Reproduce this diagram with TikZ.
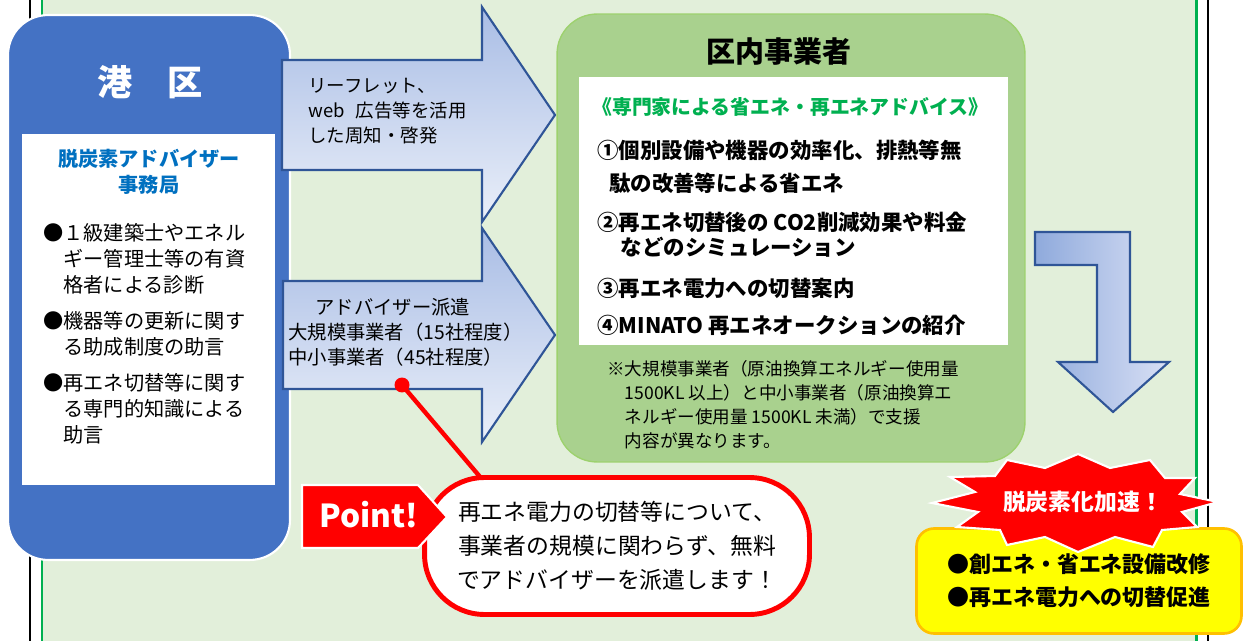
\documentclass[tikz,border=0pt]{standalone}
\usepackage{fontspec}
\setmainfont{Noto Sans CJK JP}
\usetikzlibrary{positioning}

\definecolor{bggreen}{HTML}{E2EFDA}
\definecolor{framegreen}{HTML}{00B050}
\definecolor{wardblue}{HTML}{4472C4}
\definecolor{officeblue}{HTML}{0070C0}
\definecolor{arrowedge}{HTML}{2F5597}
\definecolor{arrowtop}{HTML}{A9BDE5}
\definecolor{arrowbottom}{HTML}{EAEFF9}
\definecolor{arrowleft}{HTML}{8FAADC}
\definecolor{arrowright}{HTML}{D9E0F5}
\definecolor{bizgreen}{HTML}{A9D18E}
\definecolor{bizedge}{HTML}{9DD16E}
\definecolor{advicegreen}{HTML}{00B050}
\definecolor{alertred}{HTML}{FF0000}
\definecolor{boxyellow}{HTML}{FFFF00}
\definecolor{boxorange}{HTML}{FFC000}

\newcommand{\fsz}[2]{\fontsize{#1}{#2}\selectfont}

\begin{document}
\begin{tikzpicture}[x=0.02cm, y=-0.02cm,
        panel/.style={rectangle, rounded corners=0.8cm, inner sep=0pt},
        sheet/.style={rectangle, fill=white, inner sep=0pt},
        txt/.style={inner sep=0pt, anchor=north west, align=left},
        bigarrow/.style={draw=arrowedge, line width=1.2pt, line join=miter},
        item/.style={txt, font=\bfseries\fsz{12.2}{14.2}},
        callout/.style={rectangle, rounded corners=1.2cm, fill=white, draw=alertred, line width=2.8pt, minimum width=7.7cm, minimum height=2.74cm, align=center, font=\fsz{13}{19.3}},
        burst/.style={fill=alertred, draw=white, line width=1.2pt}
    ]
        \useasboundingbox (0,0) rectangle (1253,641);
        % page frame
        \fill[bggreen] (43,0) rectangle (1195,641);
        \draw[framegreen, line width=1.7pt] (42,0) -- (42,641) (1196,0) -- (1196,641);
        \draw[line width=1.1pt] (30,0) -- (30,641) (1208,0) -- (1208,641);

        % Minato ward
        \node[panel, fill=wardblue, draw=white, line width=1.2pt, minimum width=5.64cm, minimum height=10.9cm] (ward) at (149,287.5) {};
        \node[text=white, font=\bfseries\fsz{20}{24}] (wardname) at (150,82) {港\hspace{1em}区};
        \node[sheet, minimum width=5.06cm, minimum height=7.02cm] (office) at (148.5,309.5) {};
        \node[text=officeblue, font=\bfseries\fsz{11.5}{14.7}, align=center, inner sep=0pt] (officename) at (149,172) {脱炭素アドバイザー\\事務局};
        \node[txt, font=\fsz{11.5}{14.7}] (duties) at (43,223) {●１級建築士やエネル\\\hspace*{1em}ギー管理士等の有資\\\hspace*{1em}格者による診断\\[6pt]●機器等の更新に関す\\\hspace*{1em}る助成制度の助言\\[6pt]●再エネ切替等に関す\\\hspace*{1em}る専門的知識による\\\hspace*{1em}助言};

        % arrows to the businesses
        \draw[bigarrow, top color=arrowtop, bottom color=arrowbottom] (282,60) -- (482,60) -- (482,7) -- (555,115) -- (482,222) -- (482,170) -- (282,170) -- cycle;
        \node[txt, font=\fsz{10.5}{14.2}] (leaflet) at (308,78) {リーフレット、\\web\hspace{0.6em}広告等を活用\\した周知・啓発};
        \draw[bigarrow, top color=arrowtop, bottom color=arrowbottom] (283,281) -- (482,281) -- (482,228) -- (555,335) -- (482,442) -- (482,389) -- (283,389) -- cycle;
        \node[txt, font=\fsz{11}{14.2}] (dispatch) at (288,298) {\hspace*{1.4em}アドバイザー派遣\\大規模事業者（15社程度）\\中小事業者（45社程度）};

        % businesses in the ward
        \node[panel, fill=bizgreen, draw=bizedge, line width=0.8pt, minimum width=9.36cm, minimum height=8.96cm] (biz) at (791,238) {};
        \node[font=\bfseries\fsz{16.5}{20}] (bizname) at (779,52) {区内事業者};
        \node[sheet, minimum width=8.58cm, minimum height=5.36cm] (advice) at (793.5,211) {};
        \node[txt, text=advicegreen, font=\bfseries\fsz{11.3}{14}] (advicehead) at (592,97) {《専門家による省エネ・再エネアドバイス》};
        \node[item] (item1) at (597,140) {①個別設備や機器の効率化、排熱等無\\[4.5pt]\hspace*{0.55em}駄の改善等による省エネ};
        \node[item] (item2) at (597,212) {②再エネ切替後の CO2削減効果や料金\\\hspace*{1.1em}などのシミュレーション};
        \node[item] (item3) at (597,278) {③再エネ電力への切替案内};
        \node[item] (item4) at (597,315) {④MINATO 再エネオークションの紹介};
        \node[txt, font=\fsz{10}{13.6}] (note) at (607,360) {※大規模事業者（原油換算エネルギー使用量\\\hspace*{1em}1500KL 以上）と中小事業者（原油換算エ\\\hspace*{1em}ネルギー使用量 1500KL 未満）で支援\\\hspace*{1em}内容が異なります。};

        % bent arrow down
        \draw[bigarrow, left color=arrowleft, right color=arrowright] (1035,232) -- (1130,232) -- (1130,362) -- (1169,362) -- (1113,412) -- (1058,362) -- (1097,362) -- (1097,265) -- (1035,265) -- cycle;

        % point callout
        \coordinate (pin) at (402,385);
        \coordinate (pintail) at (481,478);
        \draw[alertred, line width=2.5pt] (pin) -- (pintail);
        \fill[alertred] (pin) circle[radius=0.15cm];
        \node[callout] (point) at (617,546) {再エネ電力の切替等について、\\事業者の規模に関わらず、無料\\でアドバイザーを派遣します！};
        \draw[burst] (302,485) -- (418,485) -- (447,517) -- (418,548) -- (302,548) -- cycle;
        \node[text=white, font=\bfseries\fsz{18}{20}] (pointtag) at (369,515) {Point!};

        % effect
        \node[rectangle, rounded corners=0.35cm, fill=boxyellow, draw=boxorange, line width=1.5pt, minimum width=6.5cm, minimum height=2.1cm, align=left, font=\bfseries\fsz{12.5}{18.7}] (effect) at (1079,581) {●創エネ・省エネ設備改修\\●再エネ電力への切替促進};
        \draw[burst] (1078,454) -- (1110,468) -- (1150,460) -- (1165,478) -- (1195,478) -- (1180,494) -- (1218,502) -- (1182,512) -- (1197,527) -- (1162,530) -- (1153,547) -- (1115,537) -- (1078,552) -- (1045,537) -- (1007,545) -- (1000,530) -- (957,527) -- (978,512) -- (932,503) -- (975,492) -- (950,477) -- (995,476) -- (1007,460) -- (1045,468) -- cycle;
        \node[text=white, font=\bfseries\fsz{13}{16}] (accel) at (1083,502) {脱炭素化加速！};
    \end{tikzpicture}
\end{document}
